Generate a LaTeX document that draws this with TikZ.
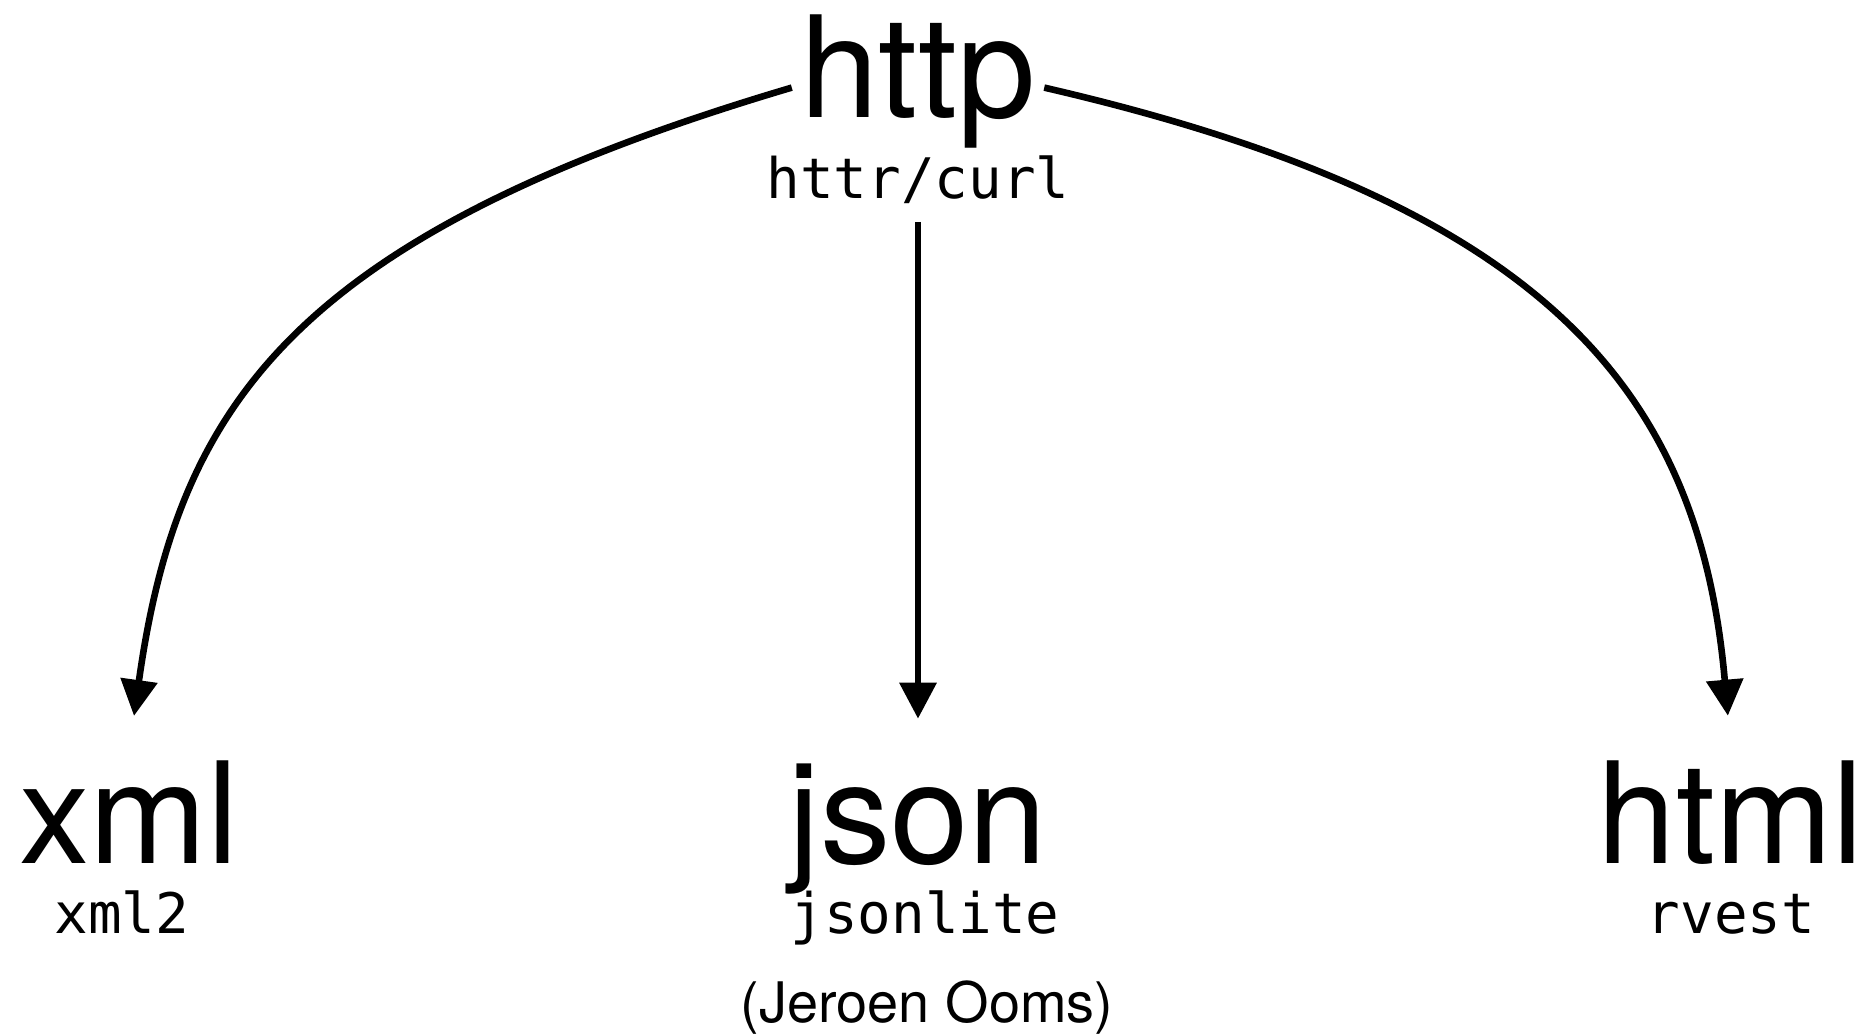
\documentclass[tikz,border=0pt]{standalone}
\usepackage{fontspec}
\usepackage{tikz}
\usetikzlibrary{arrows.meta}
\newfontfamily\labelfont{TeX Gyre Heros}
\newfontfamily\pkgfont{DejaVu Sans Mono}

\begin{document}
\begin{tikzpicture}[
    fmt/.style={font=\labelfont\fontsize{40.1}{48}\selectfont, inner sep=0.08cm, anchor=base},
    pkg/.style={font=\pkgfont\fontsize{15.9}{19}\selectfont, inner sep=0.08cm, anchor=base},
    link/.style={-{Triangle[width=0.36cm, length=0.36cm]}, line width=0.066cm}
]
        \useasboundingbox (0, 0) rectangle (18.71, 10.35);
        \node[fmt] (http) at (9.18, 9.18) {http};
        \node[pkg] (curl) at (9.18, 8.37) {httr/curl};
        \node[fmt] (xml) at (1.29, 1.72) {xml};
        \node[pkg] (xmltwo) at (1.22, 1.02) {xml2};
        \node[fmt] (json) at (9.18, 1.72) {json};
        \node[pkg] (jsonlite) at (9.25, 1.02) {jsonlite};
        \node[font=\labelfont\fontsize{15.9}{19}\selectfont, inner sep=0.08cm, anchor=base] (author) at (9.27, 0.13) {(Jeroen Ooms)};
        \node[fmt] (html) at (17.31, 1.72) {html};
        \node[pkg] (rvest) at (17.31, 1.02) {rvest};
        \draw[link, shorten >=0.36cm] (http.183) .. controls +(196.5:5.2) and +(82:3.5) .. (xml.north);
        \draw[link, shorten <=0.1cm, shorten >=0.36cm] (curl.south) -- (curl.south |- json.north);
        \draw[link, shorten >=0.36cm] (http.-3) .. controls +(-13:5.1) and +(95:3.66) .. (html.north);
    \end{tikzpicture}
\end{document}
